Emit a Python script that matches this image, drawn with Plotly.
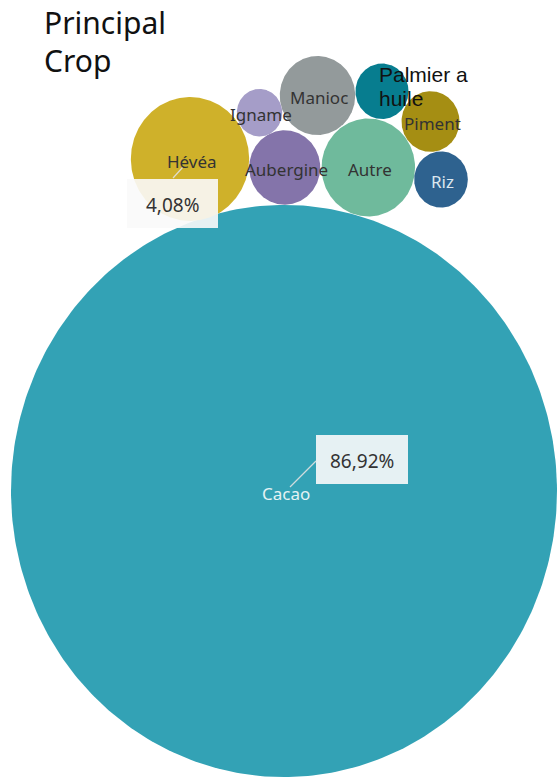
import numpy as np
import plotly.graph_objects as go

# Share of households by principal crop (%)
crops = ["Cacao", "Hévéa", "Autre", "Manioc", "Aubergine",
         "Piment", "Riz", "Palmier a huile", "Igname"]
shares = [86.92, 4.08, 2.55, 1.66, 1.47, 0.98, 0.84, 0.82, 0.60]

# Bubble fill colours
colors = ["#33a2b5", "#cfb12a", "#6fba9c", "#939a9b", "#8474aa",
          "#a58e13", "#2e628f", "#077d8f", "#a59dc8"]

# Packed-bubble layout: centre of each bubble (page pixels)
centre_x = [284.0, 190.0, 368.3, 317.5, 284.7, 430.5, 441.0, 382.0, 259.5]
centre_y = [491.0, 159.0, 167.5, 95.5, 167.5, 121.5, 179.5, 91.3, 112.7]

W, H = 560, 778
STRETCH = 1.048            # vertical scale of the drawing area
K = 273.0 / np.sqrt(86.92)  # pixels of radius per sqrt(%)

fig = go.Figure()
t = np.linspace(0, 2 * np.pi, 361)
for name, val, col, cx, cy in zip(crops, shares, colors, centre_x, centre_y):
    r = K * np.sqrt(val)
    fig.add_trace(go.Scatter(
        x=cx + r * np.cos(t),
        y=cy / STRETCH + r * np.sin(t),
        mode="lines", fill="toself", fillcolor=col,
        line=dict(width=0, color=col), name=name,
        hoverinfo="skip", showlegend=False))


def py(p):
    """Convert a page pixel row to the y data coordinate."""
    return p / STRETCH


label_font = "Noto Sans"
label_colors = {"Cacao": "#e4f2f4", "Riz": "#dce7ef"}

# Bubble names at the bubble centres
for name, cx, cy in zip(crops, centre_x, centre_y):
    if name == "Palmier a huile":
        continue
    fig.add_annotation(
        x=cx + 1.5, y=py(cy + 2), text=name, showarrow=False,
        xanchor="center", yanchor="middle",
        font=dict(family=label_font, size=17,
                  color=label_colors.get(name, "#333333")))

# "Palmier a huile" is set left-aligned in two lines
i_pal = crops.index("Palmier a huile")
for k, line in enumerate(["Palmier a", "huile"]):
    fig.add_annotation(
        x=centre_x[i_pal] - 5, y=py(centre_y[i_pal] - 17 + 24 * k),
        text=line, showarrow=False, xanchor="left", yanchor="middle",
        font=dict(family="Liberation Sans", size=21, color="#111111"))


def pct(v):
    return f"{v:.2f}".replace(".", ",") + "%"


# Value call-outs: box, leader line and percentage text
callouts = {
    "Cacao": dict(box=(316, 435, 408, 484), lead=(290, 487, 316, 461)),
    "Hévéa": dict(box=(127, 179, 218, 228), lead=(173, 178, 183, 167)),
}
for name, c in callouts.items():
    x0, y0, x1, y1 = c["box"]
    fig.add_shape(type="rect", xref="x", yref="y",
                  x0=x0, x1=x1, y0=py(y0), y1=py(y1),
                  fillcolor="rgba(249,249,249,0.9)", line=dict(width=0),
                  layer="above")
    lx0, ly0, lx1, ly1 = c["lead"]
    fig.add_shape(type="line", xref="x", yref="y",
                  x0=lx0, y0=py(ly0), x1=lx1, y1=py(ly1),
                  line=dict(color="rgba(225,225,225,0.9)", width=1.2),
                  layer="above")
    fig.add_annotation(
        x=(x0 + x1) / 2, y=py((y0 + y1) / 2 + 1),
        text=pct(shares[crops.index(name)]), showarrow=False,
        xanchor="center", yanchor="middle",
        font=dict(family=label_font, size=19, color="#333333"))

# Title, one annotation per line
for k, line in enumerate(["Principal", "Crop"]):
    fig.add_annotation(
        x=42, y=py(22 + 38 * k), text=line, showarrow=False,
        xanchor="left", yanchor="middle",
        font=dict(family=label_font, size=30, color="#111111"))

fig.update_layout(
    width=W, height=H,
    margin=dict(l=0, r=0, t=0, b=0),
    paper_bgcolor="white", plot_bgcolor="white",
    xaxis=dict(range=[0, W], visible=False, fixedrange=True),
    yaxis=dict(range=[H / STRETCH, 0], visible=False, fixedrange=True),
    showlegend=False,
)

fig.write_html("out.html", config={"displayModeBar": False})
